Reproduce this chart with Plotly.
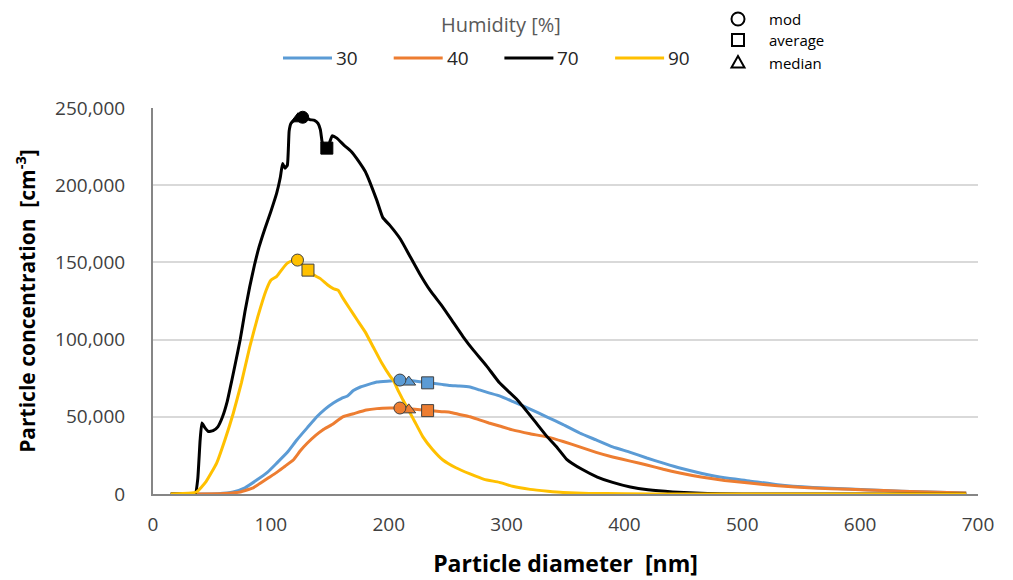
import plotly.graph_objects as go

# ---------------- data ----------------
x30 = [15, 40, 55, 68, 78, 88, 97, 105, 114, 122, 131, 139, 146, 153, 160, 165, 170, 176, 183, 190,
       201, 210, 220, 233, 245, 252, 260, 269, 277, 285, 294, 305, 320, 334, 348, 362, 376, 390, 405,
       419, 433, 447, 465, 485, 506, 530, 560, 591, 620, 650, 690]
y30 = [0, 0, 200, 1300, 4000, 9000, 14000, 20000, 27000, 35000, 43000, 50000, 55000, 59000, 62000,
       63500, 67000, 69300, 71000, 72500, 73200, 73800, 73300, 72200, 71000, 70300, 70000, 69300,
       67400, 65500, 63500, 60000, 55000, 50000, 45000, 39500, 35000, 30500, 27000, 23300, 20000,
       16800, 13500, 10500, 8500, 6000, 4200, 3200, 2200, 1500, 700]

x40 = [15, 40, 60, 74, 85, 91, 98, 105, 112, 119, 125, 131, 138, 144, 152, 161, 170, 181, 190, 201,
       210, 220, 233, 245, 252, 260, 269, 277, 285, 294, 305, 320, 334, 348, 362, 376, 390, 405, 419,
       433, 447, 465, 485, 506, 530, 560, 591, 620, 650, 690]
y40 = [0, 0, 300, 1300, 4000, 7000, 10500, 14000, 18000, 22000, 28000, 33000, 38000, 41500, 45000,
       50000, 52000, 54400, 55300, 55700, 55700, 55000, 54200, 53300, 53000, 51500, 50000, 48000,
       46000, 44000, 41500, 39000, 37000, 34000, 30500, 27000, 24000, 21300, 18800, 16000, 13600,
       11000, 8800, 7100, 5300, 3900, 3000, 2200, 1500, 700]

x70 = [15, 30, 36, 38, 40, 41.5, 44, 47, 51, 55, 59, 63, 67, 70, 74, 78, 82, 86, 90, 95, 100, 105,
       108, 110, 112, 114, 115.5, 117, 120, 124, 128, 133, 137, 140, 142, 143.5, 145.5, 148, 150, 152,
       156, 162, 168, 175, 180, 184, 190, 195, 201, 210, 218, 226, 235, 245, 254, 263, 272, 283, 294,
       309, 322, 334, 343, 351, 364, 377, 390, 405, 420, 441, 460, 481, 520, 600, 690]
y70 = [0, 0, 500, 10000, 35000, 46000, 43000, 40500, 41000, 43500, 50000, 60000, 74000, 85000,
       100000, 118000, 134000, 148000, 160000, 172000, 183000, 195000, 205000, 214000, 211000,
       213000, 235000, 240000, 242000, 243500, 244000, 242500, 242000, 240000, 236000, 228000,
       224000, 224000, 228000, 232000, 230500, 226000, 222000, 215000, 209000, 202000, 190000,
       179000, 174000, 165000, 154000, 143000, 132000, 122000, 112000, 102000, 93000, 83000, 72000,
       61000, 49000, 37500, 30000, 22500, 16000, 11000, 7500, 4500, 2700, 1300, 600, 150, 0, 0, 0]

x90 = [15, 30, 37, 45, 54, 61, 68, 75, 82, 89, 96, 100, 105, 110, 114, 118, 122, 126, 131, 136, 142,
       148, 153, 157, 161, 167, 173, 180, 187, 194, 201, 204, 208, 212, 216, 222, 229, 237, 246, 257,
       269, 281, 294, 305, 320, 335, 348, 370, 400, 450, 500, 600, 690]
y90 = [0, 500, 1300, 8000, 20000, 35000, 52000, 72000, 95000, 115000, 132000, 138500, 141000, 146000,
       149500, 151000, 151000, 149000, 145500, 142000, 139500, 135500, 133000, 132000, 127000,
       120000, 113000, 105000, 95000, 85000, 76500, 73500, 67000, 61000, 55500, 47000, 37000, 29000,
       22000, 17000, 13000, 9500, 7500, 5000, 3000, 1800, 1000, 400, 150, 0, 0, 0, 0]

# characteristic points: mod / average / median
mod_x = {"30": 209.5, "40": 209.5, "70": 127, "90": 122.6}
mod_y = {"30": 73800, "40": 55700, "70": 244000, "90": 151500}
avg_x = {"30": 233, "40": 233, "70": 147.5, "90": 131.5}
avg_y = {"30": 72000, "40": 54000, "70": 224000, "90": 145000}
med_x = {"30": 217, "40": 217, "70": 123}
med_y = {"30": 72500, "40": 54500, "70": 243000}

series_names = ["30", "40", "70", "90"]
series_x = [x30, x40, x70, x90]
series_y = [y30, y40, y70, y90]
colors = {"30": "#5B9BD5", "40": "#ED7D31", "70": "#000000", "90": "#FFC000"}
marker_names = ["mod", "average", "median"]
legend_title = "Humidity [%]"

x_ticks = [0, 100, 200, 300, 400, 500, 600, 700]
y_ticks = [0, 50000, 100000, 150000, 200000, 250000]

# ---------------- layout helpers ----------------
# the page body adds an 8px margin, so the figure is drawn 8px in from the window corner
OFF = 8
W, H = 1013 - OFF, 580 - OFF
ML, MR, MT, MB = 153 - OFF, 35, 108 - OFF, 86
PW, PH = W - ML - MR, H - MT - MB


def px(x):  # window pixel -> paper
    return (x - OFF - ML) / PW


def py(y):
    return (H - MB - (y - OFF)) / PH


# ---------------- figure ----------------
fig = go.Figure()

for name, xs, ys in zip(series_names, series_x, series_y):
    fig.add_trace(go.Scatter(x=xs, y=ys, mode="lines", name=name, showlegend=False,
                             line=dict(color=colors[name], width=3, shape="spline", smoothing=0.4)))

for name in series_names:
    outline = "#000000" if name == "70" else "#404040"
    if name in med_x:
        fig.add_trace(go.Scatter(x=[med_x[name]], y=[med_y[name]], mode="markers", showlegend=False,
                                 marker=dict(symbol="triangle-up", size=12, color=colors[name],
                                             line=dict(color=outline, width=1))))
    fig.add_trace(go.Scatter(x=[mod_x[name]], y=[mod_y[name]], mode="markers", showlegend=False,
                             marker=dict(symbol="circle", size=12, color=colors[name],
                                         line=dict(color=outline, width=1))))
    fig.add_trace(go.Scatter(x=[avg_x[name]], y=[avg_y[name]], mode="markers", showlegend=False,
                             marker=dict(symbol="square", size=12, color=colors[name],
                                         line=dict(color=outline, width=1))))

# ---------------- hand-built legends ----------------
shapes = []
annotations = []
annotations.append(dict(text=legend_title, x=px(501), y=py(25), xref="paper", yref="paper",
                        showarrow=False, font=dict(size=20, color="#595959"),
                        xanchor="center", yanchor="middle"))
for i, name in enumerate(series_names):
    x0 = 283 + 110.7 * i
    x1 = x0 + 49
    shapes.append(dict(type="line", xref="paper", yref="paper", x0=px(x0), x1=px(x1),
                       y0=py(58), y1=py(58), line=dict(color=colors[name], width=3)))
    annotations.append(dict(text=name, x=px(x1 + 2), y=py(58), xref="paper", yref="paper",
                            showarrow=False, font=dict(size=19, color="#262626"),
                            xanchor="left", yanchor="middle"))

sym_y = [19, 40, 62]
cx = 738
r = 6.5
shapes.append(dict(type="circle", xref="paper", yref="paper", x0=px(cx - r), x1=px(cx + r),
                   y0=py(sym_y[0] + r), y1=py(sym_y[0] - r), line=dict(color="#000000", width=2)))
shapes.append(dict(type="rect", xref="paper", yref="paper", x0=px(cx - 6), x1=px(cx + 6),
                   y0=py(sym_y[1] + 6), y1=py(sym_y[1] - 6), line=dict(color="#000000", width=2)))
tri = "M {:.5f},{:.5f} L {:.5f},{:.5f} L {:.5f},{:.5f} Z".format(
    px(cx - 6.5), py(sym_y[2] + 5.5), px(cx + 6.5), py(sym_y[2] + 5.5), px(cx), py(sym_y[2] - 6))
shapes.append(dict(type="path", xref="paper", yref="paper", path=tri,
                   line=dict(color="#000000", width=2)))
for m, yy in zip(marker_names, [19, 40, 63]):
    annotations.append(dict(text=m, x=px(768), y=py(yy), xref="paper", yref="paper",
                            showarrow=False, font=dict(size=15, color="#000000"), borderpad=0,
                            xanchor="left", yanchor="middle"))

fig.update_layout(
    width=W, height=H,
    margin=dict(l=ML, r=MR, t=MT, b=MB, autoexpand=False),
    paper_bgcolor="white", plot_bgcolor="white",
    font=dict(family="Open Sans", color="#404040"),
    showlegend=False,
    shapes=shapes,
    annotations=annotations,
)

fig.update_xaxes(range=[0, 700], tickvals=x_ticks, showgrid=False, zeroline=False, automargin=False,
                 showline=True, linecolor="#868686", linewidth=2,
                 ticks="outside", ticklen=12, tickcolor="rgba(0,0,0,0)",
                 tickfont=dict(size=19, color="#404040"),
                 title=dict(text="<b>Particle diameter  [nm]</b>", standoff=20,
                            font=dict(size=23, color="#000000")))
fig.update_yaxes(range=[0, 250000], tickvals=y_ticks, tickformat=",d", showgrid=True,
                 gridcolor="#D9D9D9", gridwidth=1.5, zeroline=False, automargin=False,
                 showline=True, linecolor="#868686", linewidth=2,
                 ticks="outside", ticklen=22, tickcolor="rgba(0,0,0,0)",
                 tickfont=dict(size=19, color="#404040"),
                 title=dict(text="<b>Particle concentration  [cm<sup>-3</sup>]</b>", standoff=14,
                            font=dict(size=21, color="#000000")))

fig.write_html("out.html")
